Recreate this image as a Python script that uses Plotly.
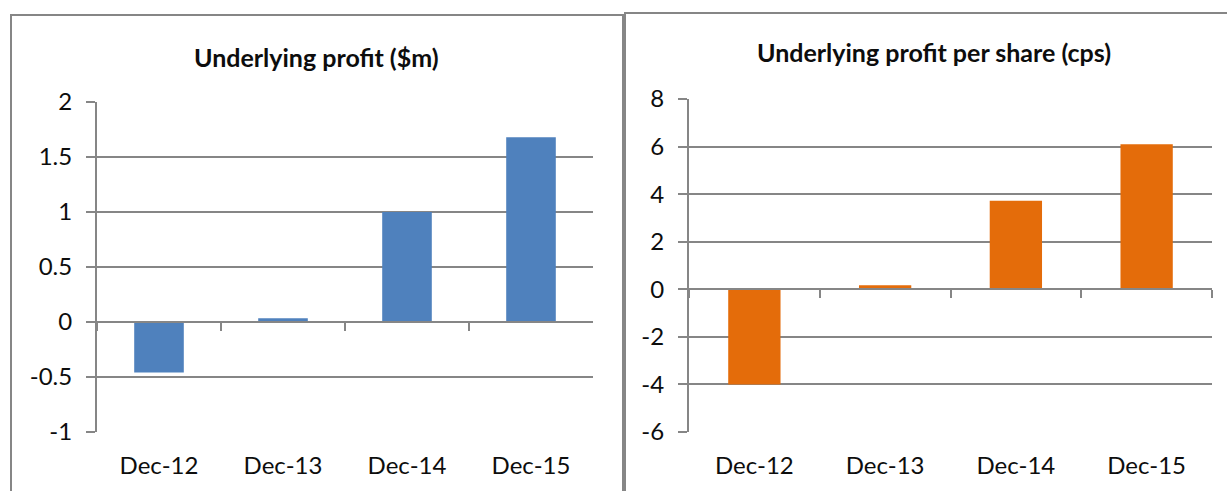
import plotly.graph_objects as go

categories = ["Dec-12", "Dec-13", "Dec-14", "Dec-15"]
profit_m = [-0.46, 0.035, 1.0, 1.68]
profit_cps = [-4.0, 0.17, 3.72, 6.1]
left_title = "Underlying profit ($m)"
right_title = "Underlying profit per share (cps)"
left_ticks = [-1, -0.5, 0, 0.5, 1, 1.5, 2]
right_ticks = [-6, -4, -2, 0, 2, 4, 6, 8]

W, H = 1227, 491
def px(x):
    return x / W
def py(y):
    return 1 - y / H

GRID = "#868686"
FONT = "Lato"
BLUE = "#4f81bd"
ORANGE = "#e46c0a"

fig = go.Figure()

# Left chart
fig.add_trace(go.Bar(x=categories, y=profit_m, marker=dict(color=BLUE, line=dict(width=0)),
                     width=0.4, xaxis="x", yaxis="y", showlegend=False))
fig.add_trace(go.Scatter(x=categories, y=profit_m, mode="lines", line=dict(width=0),
                         hoverinfo="skip", xaxis="x3", yaxis="y", showlegend=False))
# Right chart
fig.add_trace(go.Bar(x=categories, y=profit_cps, marker=dict(color=ORANGE, line=dict(width=0)),
                     width=0.4, xaxis="x2", yaxis="y2", showlegend=False))
fig.add_trace(go.Scatter(x=categories, y=profit_cps, mode="lines", line=dict(width=0),
                         hoverinfo="skip", xaxis="x4", yaxis="y2", showlegend=False))

tickfont = dict(family=FONT, size=24, color="#0d0d0d")

def yaxis_cfg(dom, rng, ticks):
    return dict(domain=dom, range=rng, tickvals=ticks, ticktext=[f"{t:g}" for t in ticks],
                showgrid=True, gridcolor=GRID, gridwidth=2, zeroline=False,
                showline=True, linecolor=GRID, linewidth=2,
                ticks="outside", ticklen=9, tickwidth=2, tickcolor=GRID,
                tickfont=tickfont, ticklabelstandoff=9, fixedrange=True, automargin=False)

def xcat_cfg(dom, anchor):
    return dict(domain=dom, anchor=anchor, type="category", categoryorder="array",
                categoryarray=categories, range=[-0.5, 3.5],
                showgrid=False, zeroline=False, showline=False, ticks="",
                tickfont=tickfont, ticklabelstandoff=17, fixedrange=True, automargin=False)

def xzero_cfg(overlay, pos):
    return dict(overlaying=overlay, anchor="free", position=pos, type="category",
                categoryorder="array", categoryarray=categories, range=[-0.5, 3.5],
                showgrid=False, zeroline=False, showline=True, linecolor=GRID, linewidth=2,
                ticks="outside", tickson="boundaries", ticklen=8, tickwidth=2, tickcolor=GRID,
                showticklabels=False, fixedrange=True, automargin=False)

left_xdom = [px(97), px(593)]
left_ydom = [py(432), py(102)]
right_xdom = [px(689), px(1212)]
right_ydom = [py(432), py(99)]

left_zero = py(432 - (432 - 102) * 1 / 3)
right_zero = py(432 - (432 - 99) * 6 / 14)

fig.update_layout(
    template="none",
    width=W, height=H, margin=dict(l=0, r=0, t=0, b=0, pad=0, autoexpand=False),
    paper_bgcolor="white", plot_bgcolor="white",
    bargap=0.6,
    xaxis=xcat_cfg(left_xdom, "y"),
    yaxis=yaxis_cfg(left_ydom, [-1, 2], left_ticks),
    xaxis2=xcat_cfg(right_xdom, "y2"),
    yaxis2=dict(yaxis_cfg(right_ydom, [-6, 8], right_ticks), anchor="x2"),
    xaxis3=xzero_cfg("x", left_zero),
    xaxis4=xzero_cfg("x2", right_zero),
    shapes=[
        dict(type="rect", xref="paper", yref="paper", x0=px(11), x1=px(623), y0=py(520), y1=py(15),
             line=dict(color=GRID, width=2), layer="below"),
        dict(type="rect", xref="paper", yref="paper", x0=px(625), x1=px(1260), y0=py(520), y1=py(13),
             line=dict(color=GRID, width=2), layer="below"),
    ],
    annotations=[
        dict(text=f"<b>{left_title}</b>", x=px(316), y=py(57), xref="paper", yref="paper",
             showarrow=False, xanchor="center", yanchor="middle",
             font=dict(family=FONT, size=25, color="#0d0d0d")),
        dict(text=f"<b>{right_title}</b>", x=px(934), y=py(52), xref="paper", yref="paper",
             showarrow=False, xanchor="center", yanchor="middle",
             font=dict(family=FONT, size=25, color="#0d0d0d")),
    ],
)

fig.write_html("out.html")
